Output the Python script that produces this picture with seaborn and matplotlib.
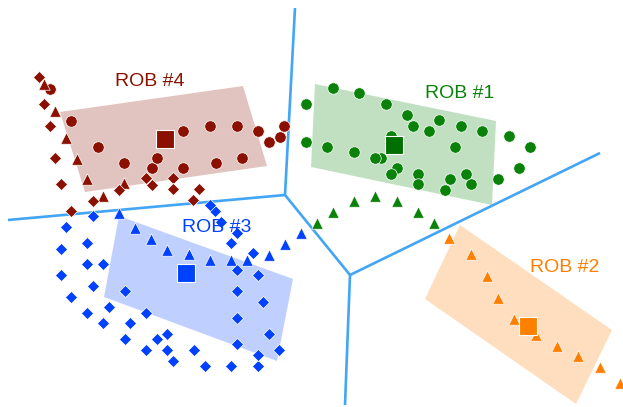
import numpy as np
import pandas as pd
import seaborn as sns
import matplotlib
matplotlib.use("Agg")
import matplotlib.pyplot as plt
from matplotlib.patches import Polygon

# ---- region boundaries (image-pixel coordinates, y grows downward) ----
edges = [
    [(295, 8), (285, 195)],
    [(285, 195), (8, 220)],
    [(285, 195), (350, 275)],
    [(350, 275), (600, 153)],
    [(350, 275), (345, 405)],
]

# ---- robot footprints ----
rob_names = ["ROB #1", "ROB #2", "ROB #3", "ROB #4"]
rob_colors = ["#0a820a", "#ff7f00", "#0040ff", "#8b1000"]
rob_square_colors = ["#007000", "#ff7f00", "#0040ff", "#8b1000"]
rob_rects = [
    [(315, 84), (496, 121), (492, 205), (311, 167)],
    [(460, 225), (612, 330), (576, 404), (425, 299)],
    [(119, 216), (293, 279), (277, 361), (104, 297)],
    [(60, 112), (243, 86), (267, 166), (85, 192)],
]
rob_centers_x = [394, 528, 186, 165]
rob_centers_y = [145, 326, 273, 139]
label_x = [460, 565, 217, 150]
label_y = [94, 268, 227, 82]

# ---- sample points per robot ----
r1_circle_x = [306, 333, 359, 386, 407, 413, 429, 439, 461, 482, 509, 530, 519, 498,
               471, 466, 455, 450, 445, 418, 418, 397, 391, 391, 381, 375, 354, 327, 306]
r1_circle_y = [104, 88, 93, 104, 115, 126, 131, 120, 126, 131, 136, 147, 168, 179,
               184, 174, 147, 179, 190, 174, 184, 168, 174, 136, 158, 158, 152, 147, 142]
r1_tri_x = [317, 333, 354, 375, 397, 418, 434]
r1_tri_y = [223, 212, 201, 196, 201, 212, 223]

r2_tri_x = [449, 471, 487, 498, 514, 536, 557, 578, 600, 620]
r2_tri_y = [238, 254, 276, 298, 319, 335, 346, 356, 367, 383]

r3_tri_x = [119, 135, 151, 167, 189, 210, 231, 247, 269, 285, 301]
r3_tri_y = [213, 228, 239, 250, 254, 260, 260, 260, 255, 244, 233]
r3_diam_x = [93, 66, 61, 87, 87, 103, 61, 93, 71, 125, 109, 87, 103, 130, 146, 125,
             157, 167, 146, 167, 173, 194, 205, 231, 258, 258, 279, 269, 237, 237,
             263, 237, 258, 237, 253, 231, 237, 221, 215, 210]
r3_diam_y = [216, 227, 249, 243, 264, 264, 275, 286, 297, 291, 307, 313, 323, 323,
             313, 339, 339, 334, 350, 350, 361, 350, 366, 366, 366, 355, 350, 334,
             344, 318, 302, 291, 275, 270, 253, 243, 233, 222, 211, 205]

r4_circle_x = [50, 71, 98, 124, 152, 157, 183, 183, 210, 216, 237, 242, 258, 269, 280, 284]
r4_circle_y = [89, 121, 147, 163, 168, 158, 131, 168, 126, 163, 126, 158, 131, 142, 137, 126]
r4_tri_x = [44, 55, 66, 77, 87, 103, 124]
r4_tri_y = [84, 111, 138, 159, 179, 196, 183]
r4_diam_x = [39, 44, 50, 55, 61, 71, 93, 119, 146, 152, 173, 173, 199, 193]
r4_diam_y = [77, 104, 126, 158, 184, 211, 201, 190, 178, 185, 178, 189, 189, 200]

sns.set_theme(style="white")
plt.rcParams["font.family"] = ["Liberation Sans", "DejaVu Sans"]

fig = plt.figure(figsize=(6.23, 4.07), dpi=100)
ax = fig.add_axes([0, 0, 1, 1])
ax.set_xlim(0, 623)
ax.set_ylim(407, 0)
ax.set_axis_off()

# footprints
for rect, col in zip(rob_rects, rob_colors):
    ax.add_patch(Polygon(rect, closed=True, facecolor=col, alpha=0.25,
                         edgecolor="none", zorder=1))

# boundaries
for (p, q) in edges:
    ax.plot([p[0], q[0]], [p[1], q[1]], color="#42a5f5", lw=1.9, zorder=2,
            solid_capstyle="butt")

groups = [
    (r1_circle_x, r1_circle_y, "o", rob_colors[0], 68),
    (r1_tri_x, r1_tri_y, "^", rob_colors[0], 68),
    (r2_tri_x, r2_tri_y, "^", rob_colors[1], 68),
    (r3_tri_x, r3_tri_y, "^", rob_colors[2], 68),
    (r3_diam_x, r3_diam_y, "D", rob_colors[2], 38),
    (r4_circle_x, r4_circle_y, "o", rob_colors[3], 68),
    (r4_tri_x, r4_tri_y, "^", rob_colors[3], 68),
    (r4_diam_x, r4_diam_y, "D", rob_colors[3], 38),
]
for xs, ys, mk, col, s in groups:
    df = pd.DataFrame({"x": xs, "y": ys})
    sns.scatterplot(data=df, x="x", y="y", marker=mk, color=col, s=s,
                    edgecolor="white", linewidth=0.5, ax=ax, zorder=3)

centers = pd.DataFrame({"x": rob_centers_x, "y": rob_centers_y, "rob": rob_names})
sns.scatterplot(data=centers, x="x", y="y", hue="rob", palette=rob_square_colors,
                marker="s", s=160, edgecolor="white", linewidth=0.8, ax=ax,
                legend=False, zorder=4)

for name, col, lx, ly in zip(rob_names, rob_colors, label_x, label_y):
    ax.text(lx, ly, name, color=col, fontsize=14, ha="center", va="center", zorder=5)

ax.set_xlim(0, 623)
ax.set_ylim(407, 0)
fig.savefig("out.png", dpi=100)
